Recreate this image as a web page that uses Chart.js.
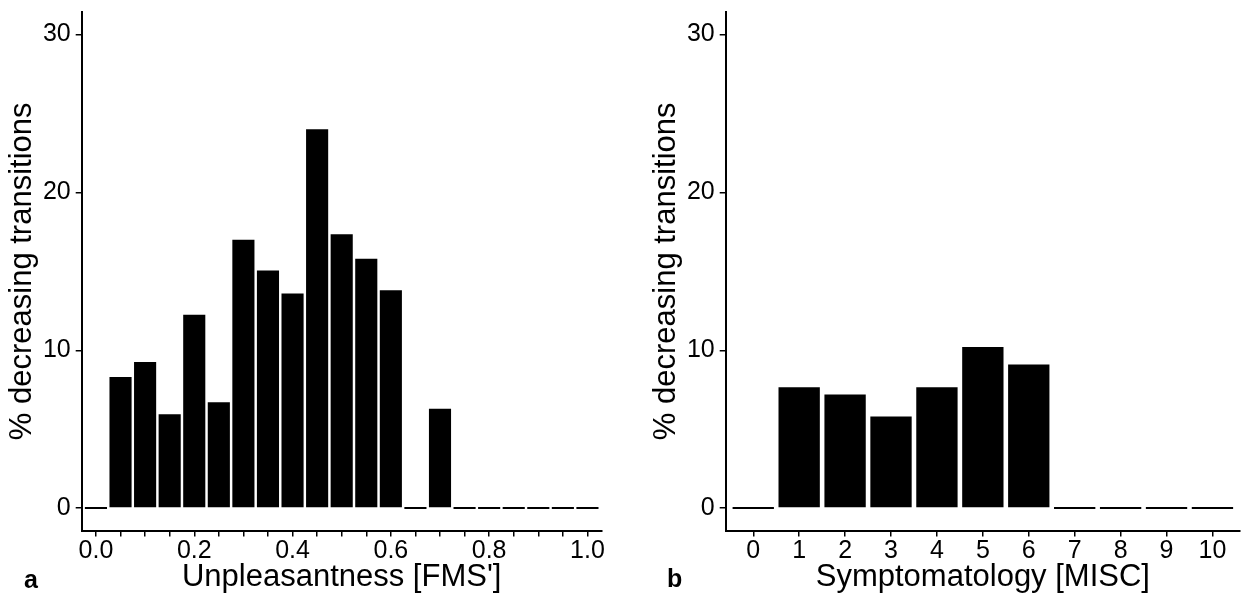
<!DOCTYPE html>
<html>
<head>
<meta charset="utf-8">
<script src="https://cdn.jsdelivr.net/npm/chart.js@4/dist/chart.umd.min.js"></script>
<style>
  body { margin: 0; background: #fff; }
  #wrap { position: relative; width: 1244px; height: 598px; }
  canvas { position: absolute; top: 0; }
  .tag { position: absolute; font: bold 25px "Liberation Sans", Arial, sans-serif; line-height: 25px; color: #000; }
</style>
</head>
<body>
<div id="wrap">
  <canvas id="chartA" width="622" height="598" style="left:0"></canvas>
  <canvas id="chartB" width="600" height="598" style="left:644px"></canvas>
  <div class="tag" style="left:24px;top:567px">a</div>
  <div class="tag" style="left:667px;top:566px">b</div>
</div>
<script>
var fmsBins = [0.00, 0.05, 0.10, 0.15, 0.20, 0.25, 0.30, 0.35, 0.40, 0.45, 0.50,
               0.55, 0.60, 0.65, 0.70, 0.75, 0.80, 0.85, 0.90, 0.95, 1.00];
var fmsPct = [0, 8.3, 9.25, 5.95, 12.25, 6.7, 17.0, 15.05, 13.6, 24.0, 17.35,
              15.8, 13.8, 0, 6.3, 0, 0, 0, 0, 0, 0];
var miscScores = [0, 1, 2, 3, 4, 5, 6, 7, 8, 9, 10];
var miscPct = [0, 7.65, 7.2, 5.8, 7.65, 10.2, 9.1, 0, 0, 0, 0];
var yTicks = [0, 10, 20, 30];

Chart.defaults.font.family = '"Liberation Sans", Arial, sans-serif';
Chart.defaults.color = '#000';

function makePanel(id, xs, ys, xMin, xMax, tickLabel, xTitle) {
  var points = [];
  for (var i = 0; i < xs.length; i++) {
    points.push({x: xs[i], y: ys[i]});
  }
  var config = {
    type: 'bar',
    data: {
      datasets: [{
        data: points,
        backgroundColor: '#000',
        borderWidth: 0,
        barPercentage: 0.9,
        categoryPercentage: 1,
        minBarLength: 2
      }]
    },
    options: {
      responsive: false,
      animation: false,
      layout: {padding: {left: 0, top: 11.7, right: id == 'chartA' ? 20.3 : 4, bottom: 0}},
      plugins: {legend: {display: false}, tooltip: {enabled: false}},
      scales: {
        x: {
          type: 'linear',
          min: xMin,
          max: xMax,
          offset: false,
          afterBuildTicks: function(scale) {
            scale.ticks = xs.map(function(v) { return {value: v}; });
          },
          afterFit: function(scale) {
            scale.height = 67;
            scale.paddingLeft = 0;
            scale.paddingRight = 0;
          },
          ticks: {
            autoSkip: false,
            maxRotation: 0,
            padding: 0,
            font: {size: 25},
            callback: tickLabel
          },
          grid: {offset: false, drawOnChartArea: false, tickLength: 5.5, color: '#000', lineWidth: 1.5},
          border: {color: '#000', width: 2},
          title: {display: true, text: xTitle, font: {size: 31}, padding: {top: 0, bottom: 2.1}}
        },
        y: {
          min: -1.45,
          max: 31.45,
          afterBuildTicks: function(scale) {
            scale.ticks = yTicks.map(function(v) { return {value: v}; });
          },
          afterFit: function(scale) {
            scale.width = 81.7;
            scale.paddingTop = 0;
            scale.paddingBottom = 0;
          },
          ticks: {padding: 5, font: {size: 25}},
          grid: {drawOnChartArea: false, tickLength: 6, color: '#000', lineWidth: 1.5},
          border: {color: '#000', width: 2},
          title: {display: true, text: '% decreasing transitions', font: {size: 31}, padding: {top: 4.2, bottom: 0}}
        }
      }
    }
  };
  return new Chart(document.getElementById(id).getContext('2d'), config);
}

makePanel('chartA', fmsBins, fmsPct, -0.029, 1.029, function(value, index) {
  return index % 4 === 0 ? value.toFixed(1) : '';
}, "Unpleasantness [FMS']");

makePanel('chartB', miscScores, miscPct, -0.6, 10.6, function(value) {
  return String(value);
}, 'Symptomatology [MISC]');
</script>
</body>
</html>
